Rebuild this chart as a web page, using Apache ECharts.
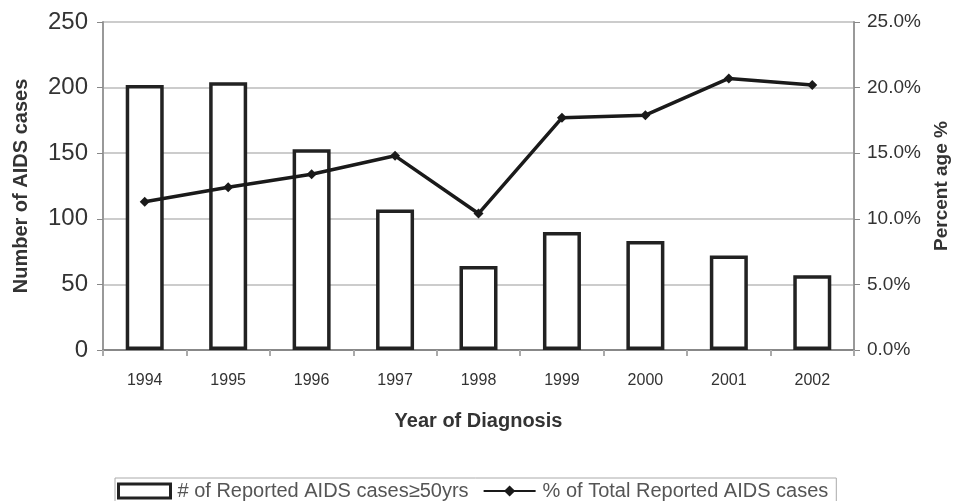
<!DOCTYPE html>
<html><head><meta charset="utf-8">
<script src="https://cdn.jsdelivr.net/npm/echarts@6/dist/echarts.min.js"></script>
<style>html,body{margin:0;padding:0;background:#fff;overflow:hidden}#c{width:957px;height:501px}</style>
</head><body><div id="c"></div>
<script>
const years = ['1994','1995','1996','1997','1998','1999','2000','2001','2002'];
const cases = [202, 204, 153, 107, 64, 90, 83, 72, 57];
const percent = [11.3, 12.4, 13.4, 14.8, 10.4, 17.7, 17.9, 20.7, 20.2];
const leftTicks = [0, 50, 100, 150, 200, 250];
const rightTicks = [0, 5, 10, 15, 20, 25];

const font = 'Liberation Sans, Arial, sans-serif';
const chart = echarts.init(document.getElementById('c'), null, { width: 957, height: 501 });
chart.setOption({
  animation: false,
  backgroundColor: '#fff',
  textStyle: { fontFamily: font, color: '#333' },
  grid: { left: 103, right: 103, top: 22, bottom: 151, containLabel: false, outerBoundsMode: 'none' },
  legend: {
    top: 478, left: 115,
    borderColor: '#aaa', borderWidth: 1,
    padding: [3, 8, 8, 2],
    itemWidth: 52, itemHeight: 14, itemGap: 14,
    textStyle: { fontFamily: font, fontSize: 20, color: '#555', padding: [0,0,0,2] },
    data: [
      { name: '# of Reported AIDS cases≥50yrs', icon: 'rect', itemStyle: { color: '#fff', borderColor: '#222', borderWidth: 3 } },
      { name: '% of Total Reported AIDS cases' }
    ]
  },
  xAxis: {
    type: 'category', data: years, boundaryGap: true,
    name: 'Year of Diagnosis', nameLocation: 'middle', nameGap: 61,
    nameTextStyle: { fontFamily: font, fontSize: 20, fontWeight: 'bold', color: '#333' },
    axisLine: { lineStyle: { color: '#888', width: 2 } },
    axisTick: { show: true, inside: false, length: 6, lineStyle: { color: '#aaa', width: 2 }, alignWithLabel: false },
    axisLabel: { fontSize: 16, color: '#333', margin: 23, fontFamily: font }
  },
  yAxis: [
    {
      type: 'value', min: 0, max: 250, interval: 50,
      name: 'Number of AIDS cases', nameLocation: 'middle', nameGap: 72,
      nameTextStyle: { fontFamily: font, fontSize: 20, fontWeight: 'bold', color: '#333' },
      axisLine: { show: true, lineStyle: { color: '#999', width: 2 } },
      axisTick: { show: true, length: 6, lineStyle: { color: '#888' } },
      axisLabel: { fontSize: 24, color: '#333', margin: 15, fontFamily: font,
        formatter: v => leftTicks.includes(v) ? String(v) : '' },
      splitLine: { show: true, lineStyle: { color: '#ccc', width: 2 } }
    },
    {
      type: 'value', min: 0, max: 25, interval: 5,
      name: 'Percent age %', nameLocation: 'middle', nameGap: 78, nameRotate: 90,
      nameTextStyle: { fontFamily: font, fontSize: 19, fontWeight: 'bold', color: '#333' },
      axisLine: { show: true, lineStyle: { color: '#999', width: 2 } },
      axisTick: { show: true, length: 6, lineStyle: { color: '#888' } },
      axisLabel: { fontSize: 19, color: '#333', margin: 13, fontFamily: font,
        formatter: v => rightTicks.includes(v) ? v.toFixed(1) + '%' : '' },
      splitLine: { show: false }
    }
  ],
  series: [
    {
      name: '# of Reported AIDS cases≥50yrs', type: 'bar', data: cases, yAxisIndex: 0,
      barWidth: 38,
      itemStyle: { color: '#fff', borderColor: '#222', borderWidth: 3.5 }
    },
    {
      name: '% of Total Reported AIDS cases', type: 'line', data: percent, yAxisIndex: 1,
      symbol: 'diamond', symbolSize: 10,
      lineStyle: { color: '#1a1a1a', width: 3.5 },
      itemStyle: { color: '#1a1a1a' }
    }
  ]
});
</script></body></html>
